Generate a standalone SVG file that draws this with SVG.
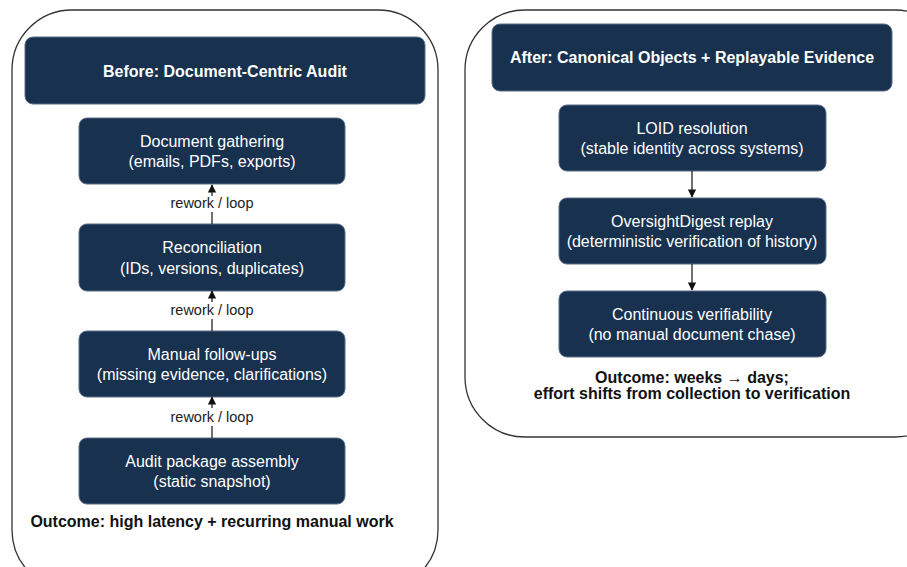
<svg xmlns="http://www.w3.org/2000/svg" width="907" height="567" viewBox="0 0 907 567">
  <style>
    .panel { fill: #ffffff; stroke: #333333; stroke-width: 1.3; }
    .box { fill: #17314f; stroke: #5a6f88; stroke-width: 1; }
    .t { font-family: "Liberation Sans", Arial, sans-serif; font-size: 16px; fill: #ffffff; text-anchor: middle; }
    .h { font-weight: bold; }
    .lbl { font-family: "Liberation Sans", Arial, sans-serif; font-size: 14.5px; fill: #222222; text-anchor: middle; }
    .out { font-family: "Liberation Sans", Arial, sans-serif; font-size: 16px; font-weight: bold; fill: #111111; text-anchor: middle; }
    .edge { stroke: #111111; stroke-width: 1.2; fill: none; }
  </style>
  <defs>
    <marker id="arr" viewBox="0 0 10 10" refX="9" refY="5" markerWidth="7" markerHeight="7" orient="auto">
      <path d="M0,0 L10,5 L0,10 Z" fill="#111111"/>
    </marker>
  </defs>
  <rect width="907" height="567" fill="#ffffff"/>

  <!-- Before panel -->
  <g id="panel-before">
    <rect class="panel" x="12" y="10" width="426" height="580" rx="60" ry="60"/>
    <g id="before-title">
      <rect class="box" x="25" y="37" width="400" height="67" rx="8"/>
      <text class="t h" x="225" y="77">Before: Document-Centric Audit</text>
    </g>
    <g id="doc-gathering">
      <rect class="box" x="79" y="118" width="266" height="66" rx="8"/>
      <text class="t" x="212" y="147">Document gathering</text>
      <text class="t" x="212" y="167">(emails, PDFs, exports)</text>
    </g>
    <g id="reconciliation">
      <rect class="box" x="79" y="224" width="266" height="67" rx="8"/>
      <text class="t" x="212" y="253">Reconciliation</text>
      <text class="t" x="212" y="274">(IDs, versions, duplicates)</text>
    </g>
    <g id="manual-followups">
      <rect class="box" x="79" y="331" width="266" height="66" rx="8"/>
      <text class="t" x="212" y="360">Manual follow-ups</text>
      <text class="t" x="212" y="380">(missing evidence, clarifications)</text>
    </g>
    <g id="audit-package">
      <rect class="box" x="79" y="438" width="266" height="66" rx="8"/>
      <text class="t" x="212" y="467">Audit package assembly</text>
      <text class="t" x="212" y="487">(static snapshot)</text>
    </g>
    <text class="out" x="212" y="527">Outcome: high latency + recurring manual work</text>
  </g>

  <!-- After panel -->
  <g id="panel-after">
    <rect class="panel" x="465" y="10" width="490" height="427" rx="60" ry="60"/>
    <g id="after-title">
      <rect class="box" x="492" y="24" width="400" height="67" rx="8"/>
      <text class="t h" x="692" y="63">After: Canonical Objects + Replayable Evidence</text>
    </g>
    <g id="loid-resolution">
      <rect class="box" x="559" y="105" width="267" height="66" rx="8"/>
      <text class="t" x="692" y="134">LOID resolution</text>
      <text class="t" x="692" y="154">(stable identity across systems)</text>
    </g>
    <g id="oversight-replay">
      <rect class="box" x="559" y="198" width="267" height="66" rx="8"/>
      <text class="t" x="692" y="227">OversightDigest replay</text>
      <text class="t" x="692" y="247">(deterministic verification of history)</text>
    </g>
    <g id="continuous-verifiability">
      <rect class="box" x="559" y="291" width="267" height="66" rx="8"/>
      <text class="t" x="692" y="320">Continuous verifiability</text>
      <text class="t" x="692" y="340">(no manual document chase)</text>
    </g>
    <text class="out" x="692" y="383">Outcome: weeks → days;</text>
    <text class="out" x="692" y="399">effort shifts from collection to verification</text>
  </g>

  <!-- Connectors -->
  <g id="connectors">
    <line class="edge" x1="212" y1="196" x2="212" y2="185" marker-end="url(#arr)"/>
    <text class="lbl" x="212" y="208">rework / loop</text>
    <line class="edge" x1="212" y1="212" x2="212" y2="224"/>

    <line class="edge" x1="212" y1="302" x2="212" y2="291" marker-end="url(#arr)"/>
    <text class="lbl" x="212" y="315">rework / loop</text>
    <line class="edge" x1="212" y1="319" x2="212" y2="331"/>

    <line class="edge" x1="212" y1="408" x2="212" y2="397" marker-end="url(#arr)"/>
    <text class="lbl" x="212" y="422">rework / loop</text>
    <line class="edge" x1="212" y1="426" x2="212" y2="438"/>

    <line class="edge" x1="692" y1="171" x2="692" y2="197" marker-end="url(#arr)"/>
    <line class="edge" x1="692" y1="264" x2="692" y2="290" marker-end="url(#arr)"/>
  </g>
</svg>
